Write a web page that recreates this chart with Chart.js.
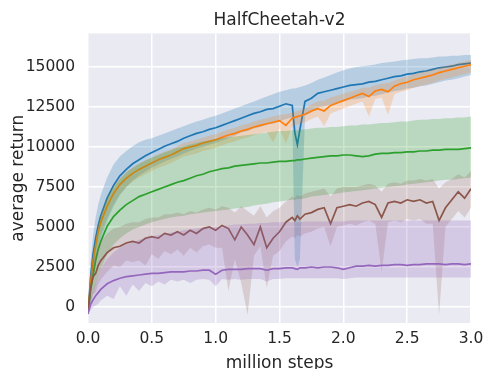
<!DOCTYPE html>
<html>
<head>
<meta charset="utf-8">
<script src="https://cdn.jsdelivr.net/npm/chart.js@4.4.1/dist/chart.umd.min.js"></script>
<style>
  html, body { margin: 0; padding: 0; background: #fff; }
  canvas { display: block; }
</style>
</head>
<body>
<canvas id="chart" width="486" height="369"></canvas>
<script>
// x positions (million steps), shared by every run
const steps = [
  0, 0.02, 0.04, 0.06, 0.08, 0.1, 0.15, 0.2, 0.25, 0.3,
  0.35, 0.4, 0.45, 0.5, 0.55, 0.6, 0.65, 0.7, 0.75, 0.8,
  0.85, 0.9, 0.95, 1.0, 1.05, 1.1, 1.15, 1.2, 1.25, 1.3,
  1.35, 1.4, 1.45, 1.5, 1.55, 1.6, 1.62, 1.64, 1.66, 1.7,
  1.75, 1.8, 1.85, 1.9, 1.95, 2.0, 2.05, 2.1, 2.15, 2.2,
  2.25, 2.3, 2.35, 2.4, 2.45, 2.5, 2.55, 2.6, 2.65, 2.7,
  2.75, 2.8, 2.85, 2.9, 2.95, 3.0
];

const xTicks = [0, 0.5, 1, 1.5, 2, 2.5, 3];
const yTicks = [0, 2500, 5000, 7500, 10000, 12500, 15000];

const blueMean = [
  -400, 1800, 3300, 4300, 5100, 5700, 6800, 7600, 8200, 8600,
  8950, 9200, 9450, 9650, 9850, 10050, 10200, 10350, 10550, 10700,
  10850, 10950, 11100, 11200, 11350, 11500, 11650, 11800, 11950, 12100,
  12200, 12350, 12400, 12550, 12700, 12600, 10900, 10150, 11100, 12850,
  13050, 13350, 13450, 13550, 13650, 13750, 13850, 13900, 13950, 14050,
  14100, 14200, 14300, 14400, 14450, 14550, 14600, 14700, 14750, 14850,
  14950, 15000, 15050, 15150, 15200, 15250
];
const blueHigh = [
  -300, 2800, 4500, 5600, 6400, 7000, 8100, 8900, 9400, 9750,
  10050, 10300, 10450, 10550, 10700, 10850, 11000, 11150, 11300, 11450,
  11600, 11700, 11850, 11950, 12100, 12250, 12400, 12550, 12700, 12850,
  13000, 13150, 13300, 13450, 13550, 13650, 13650, 13700, 13750, 13850,
  14000, 14200, 14350, 14500, 14650, 14800, 14900, 15000, 15050, 15100,
  15150, 15250, 15300, 15350, 15400, 15450, 15500, 15550, 15550, 15600,
  15650, 15650, 15700, 15700, 15750, 15750
];
const blueLow = [
  -500, 800, 2000, 2900, 3700, 4300, 5400, 6300, 7000, 7500,
  7900, 8200, 8450, 8700, 8900, 9100, 9250, 9400, 9600, 9750,
  9900, 10000, 10150, 10250, 10400, 10550, 10700, 10900, 11000, 11150,
  11250, 11400, 11450, 11600, 11750, 11850, 3000, 2500, 3000, 11950,
  12150, 12450, 12550, 12650, 12750, 12850, 12950, 13000, 13050, 13150,
  13200, 13300, 13400, 13500, 13550, 13650, 13700, 13800, 13850, 13950,
  14050, 14150, 14200, 14300, 14400, 14500
];

const orangeMean = [
  -400, 1500, 2900, 3800, 4700, 5300, 6300, 7100, 7650, 8050,
  8350, 8600, 8800, 9000, 9200, 9350, 9500, 9700, 9900, 10000,
  10100, 10250, 10350, 10450, 10600, 10750, 10850, 11000, 11100, 11250,
  11350, 11450, 11550, 11650, 11350, 11800, 11850, 11900, 11950, 12050,
  12250, 12400, 12250, 12600, 12750, 12900, 13050, 13200, 13350, 13150,
  13500, 13600, 13450, 13800, 13950, 14050, 14200, 14300, 14400, 14500,
  14650, 14750, 14850, 14950, 15050, 15150
];
const orangeHigh = [
  -300, 2000, 3400, 4300, 5200, 5800, 6800, 7550, 8050, 8450,
  8700, 8950, 9150, 9350, 9550, 9700, 9850, 10050, 10250, 10350,
  10450, 10600, 10700, 10800, 10950, 11100, 11200, 11350, 11450, 11600,
  11700, 11800, 11900, 12000, 12050, 12150, 12200, 12250, 12300, 12400,
  12650, 12850, 12900, 13100, 13200, 13350, 13450, 13550, 13700, 13700,
  13850, 13950, 14000, 14150, 14300, 14400, 14550, 14650, 14750, 14850,
  14950, 15050, 15150, 15250, 15350, 15450
];
const orangeLow = [
  -500, 900, 2200, 3100, 4000, 4600, 5600, 6450, 7050, 7500,
  7850, 8100, 8300, 8500, 8700, 8850, 9000, 9200, 9400, 9500,
  9600, 9750, 9850, 9950, 10100, 10250, 10350, 10500, 10600, 10750,
  10850, 10950, 10300, 11150, 10200, 11300, 11350, 11400, 11450, 11550,
  11750, 11900, 11300, 12100, 12250, 12400, 12550, 12700, 12850, 11900,
  13000, 13100, 12000, 13300, 13450, 13550, 13700, 13800, 13900, 14000,
  14150, 14250, 14350, 14450, 14550, 14650
];

const greenMean = [
  -400, 1000, 2000, 2900, 3600, 4100, 5050, 5650, 6050, 6400,
  6650, 6900, 7050, 7200, 7350, 7500, 7650, 7800, 7900, 8050,
  8200, 8300, 8450, 8550, 8650, 8700, 8800, 8850, 8900, 8950,
  9000, 9000, 9050, 9100, 9100, 9150, 9150, 9200, 9200, 9250,
  9300, 9350, 9400, 9450, 9450, 9500, 9500, 9450, 9400, 9450,
  9550, 9600, 9600, 9650, 9650, 9700, 9700, 9750, 9750, 9800,
  9800, 9850, 9850, 9850, 9900, 9950
];
const greenHigh = [
  -300, 1800, 3200, 4300, 5100, 5700, 6800, 7500, 8000, 8400,
  8700, 8950, 9150, 9350, 9500, 9650, 9800, 9950, 10050, 10150,
  10250, 10350, 10400, 10500, 10550, 10600, 10650, 10700, 10750, 10800,
  10850, 10900, 10950, 11000, 11000, 11050, 11050, 11050, 11100, 11100,
  11150, 11200, 11200, 11250, 11250, 11300, 11350, 11350, 11400, 11400,
  11450, 11500, 11500, 11550, 11600, 11600, 11650, 11700, 11700, 11750,
  11750, 11800, 11800, 11850, 11850, 11900
];
const greenLow = [
  -500, 200, 800, 1400, 2000, 2400, 3300, 3900, 4300, 4600,
  4850, 5000, 5150, 5300, 5400, 5500, 5600, 5650, 5700, 5800,
  5850, 5900, 5950, 6000, 6050, 6100, 6150, 6200, 6250, 6350,
  6400, 6450, 6550, 6600, 6650, 6700, 6700, 6750, 6750, 6800,
  6900, 6950, 7000, 7050, 7100, 7150, 7200, 7250, 7300, 7350,
  7400, 7450, 7500, 7550, 7600, 7650, 7700, 7750, 7800, 7850,
  7900, 7950, 7950, 8000, 8050, 8100
];

const brownMean = [
  -300, 1200, 1900, 2100, 2600, 2900, 3400, 3700, 3800, 4000,
  4100, 4000, 4300, 4400, 4300, 4600, 4500, 4700, 4500, 4800,
  4600, 4900, 5000, 4800, 5100, 4900, 4200, 5000, 4500, 3900,
  5000, 3700, 4300, 4700, 5300, 5600, 5400, 5700, 5500, 5800,
  5900, 6100, 6200, 5200, 6200, 6300, 6400, 6300, 6500, 6600,
  6400, 5600, 6500, 6600, 6500, 6700, 6600, 6700, 6500, 6600,
  5400, 6200, 6700, 7200, 6800, 7400
];
const brownHigh = [
  -200, 2200, 3000, 3300, 3800, 4100, 4600, 4900, 5000, 5200,
  5300, 5300, 5500, 5600, 5600, 5800, 5800, 5900, 5800, 6000,
  5900, 6100, 6200, 6100, 6300, 6200, 5900, 6300, 6000, 5700,
  6300, 5600, 6000, 6200, 6600, 6900, 6800, 7000, 6900, 7100,
  7200, 7300, 7400, 6900, 7400, 7500, 7500, 7500, 7600, 7700,
  7600, 7200, 7700, 7800, 7700, 7900, 7900, 8000, 7900, 8000,
  7400, 7800, 8000, 8300, 8100, 8500
];
const brownLow = [
  -500, 300, 800, 900, 1400, 1700, 2200, 2600, 2500, 2900,
  2800, 2900, 2600, 3300, 3000, 3500, 3300, 3600, 3200, 3700,
  3400, 3800, 3900, 3700, 3700, 1000, 3000, 1500, -500, 3200,
  3800, 1200, 3200, 3500, 4100, 4400, 4300, 4500, 4400, 4600,
  4700, 4900, 5000, 3800, 5000, 5100, 5200, 5100, 5300, 5400,
  5200, 2200, 5300, 5400, 5300, 5500, 5400, 5500, 5200, 5200,
  -500, 5000, 5500, 6000, 5600, 6200
];

const purpleMean = [
  -400, 150, 450, 700, 900, 1100, 1450, 1650, 1800, 1900,
  1950, 2000, 2050, 2100, 2100, 2150, 2200, 2200, 2200, 2250,
  2250, 2300, 2300, 2050, 2300, 2350, 2350, 2350, 2400, 2400,
  2400, 2300, 2400, 2400, 2450, 2450, 2400, 2350, 2450, 2450,
  2500, 2450, 2500, 2500, 2450, 2350, 2450, 2550, 2550, 2600,
  2550, 2600, 2600, 2650, 2650, 2600, 2650, 2650, 2700, 2700,
  2700, 2650, 2700, 2700, 2650, 2700
];
const purpleHigh = [
  -300, 500, 1000, 1500, 2000, 2400, 3000, 3400, 3700, 3900,
  4050, 4200, 4300, 4400, 4500, 4550, 4650, 4700, 4800, 4850,
  4900, 4950, 5000, 5000, 5050, 5100, 5150, 5150, 5200, 5200,
  5250, 5250, 5300, 5300, 5300, 5300, 5300, 5300, 5300, 5350,
  5350, 5350, 5350, 5350, 5350, 5350, 5400, 5400, 5400, 5400,
  5400, 5400, 5400, 5400, 5400, 5400, 5400, 5400, 5400, 5400,
  5400, 5400, 5400, 5400, 5400, 5400
];
const purpleLow = [
  -500, -200, 0, 100, 200, 400, 700, 500, 1300, 700,
  1400, 1000, 1500, 1300, 1600, 1400, 1700, 1600, 1700, 1500,
  1700, 1750, 1700, 1300, 1750, 1700, 1750, 1700, 1750, 1750,
  1750, 1600, 1750, 1750, 1800, 1800, 1800, 1800, 1800, 1800,
  1800, 1800, 1800, 1800, 1800, 1750, 1800, 1850, 1850, 1850,
  1850, 1850, 1850, 1850, 1850, 1850, 1850, 1850, 1850, 1850,
  1850, 1850, 1850, 1850, 1850, 1850
];

const runs = [
  { color: '31,119,180', alpha: 0.25, mean: blueMean, high: blueHigh, low: blueLow },
  { color: '255,127,14', alpha: 0.22, mean: orangeMean, high: orangeHigh, low: orangeLow },
  { color: '44,160,44', alpha: 0.25, mean: greenMean, high: greenHigh, low: greenLow },
  { color: '140,86,75', alpha: 0.2, mean: brownMean, high: brownHigh, low: brownLow },
  { color: '148,103,189', alpha: 0.25, mean: purpleMean, high: purpleHigh, low: purpleLow }
];

const toPoints = (ys) => ys.map((y, i) => ({ x: steps[i], y: y }));

// each run: invisible upper edge, lower edge filled up to it, then the mean line
const datasets = [];
runs.forEach((run, i) => {
  const upperIndex = datasets.length;
  datasets.push({
    data: toPoints(run.high),
    borderWidth: 0,
    borderColor: 'transparent',
    pointRadius: 0,
    fill: false,
    order: 100 - i * 3
  });
  datasets.push({
    data: toPoints(run.low),
    borderWidth: 0,
    borderColor: 'transparent',
    backgroundColor: 'rgba(' + run.color + ',' + run.alpha + ')',
    pointRadius: 0,
    fill: upperIndex,
    order: 100 - i * 3
  });
  datasets.push({
    data: toPoints(run.mean),
    borderWidth: 1.7,
    borderColor: 'rgb(' + run.color + ')',
    pointRadius: 0,
    fill: false,
    order: 99 - i * 3
  });
});

const plotBackground = {
  id: 'plotBackground',
  beforeDraw: (chart) => {
    const { ctx, chartArea } = chart;
    ctx.save();
    ctx.fillStyle = '#eaeaf2';
    ctx.fillRect(chartArea.left, chartArea.top, chartArea.right - chartArea.left, chartArea.bottom - chartArea.top);
    ctx.restore();
  }
};

Chart.defaults.font.family = '"DejaVu Sans", sans-serif';
Chart.defaults.color = '#262626';

new Chart(document.getElementById('chart'), {
  type: 'line',
  data: { datasets: datasets },
  options: {
    responsive: false,
    animation: false,
    devicePixelRatio: 1,
    layout: { padding: 0 },
    plugins: {
      legend: { display: false },
      tooltip: { enabled: false },
      title: {
        display: true,
        text: 'HalfCheetah-v2',
        fullSize: false,
        font: { size: 17, weight: 'normal' },
        color: '#262626',
        padding: { top: 10, bottom: 3 }
      }
    },
    scales: {
      x: {
        type: 'linear',
        min: 0,
        max: 3,
        afterBuildTicks: (scale) => { scale.ticks = xTicks.map(v => ({ value: v })); },
        afterFit: (scale) => {
          // fixed band under the plot; keep the right margin independent of the last label
          scale.height = 46;
          scale.paddingLeft = 0;
          scale.paddingRight = 15;
        },
        ticks: {
          font: { size: 15.5 },
          padding: 7,
          maxRotation: 0,
          callback: (v) => v.toFixed(1)
        },
        grid: { color: '#ffffff', lineWidth: 1.5, drawTicks: false },
        border: { display: false },
        title: {
          display: true,
          text: 'million steps',
          font: { size: 17, lineHeight: 0.65 },
          padding: { top: 0, bottom: 0 }
        }
      },
      y: {
        type: 'linear',
        min: -1000,
        max: 17100,
        afterBuildTicks: (scale) => { scale.ticks = yTicks.map(v => ({ value: v })); },
        afterFit: (scale) => {
          scale.width = 88;
          scale.paddingTop = 0;
          scale.paddingBottom = 0;
        },
        ticks: {
          font: { size: 15.5 },
          padding: 13,
          callback: (v) => String(v)
        },
        grid: { color: '#ffffff', lineWidth: 1.5, drawTicks: false },
        border: { display: false },
        title: {
          display: true,
          text: 'average return',
          font: { size: 17 },
          padding: { top: 8, bottom: 0 }
        }
      }
    }
  },
  plugins: [plotBackground]
});
</script>
</body>
</html>
